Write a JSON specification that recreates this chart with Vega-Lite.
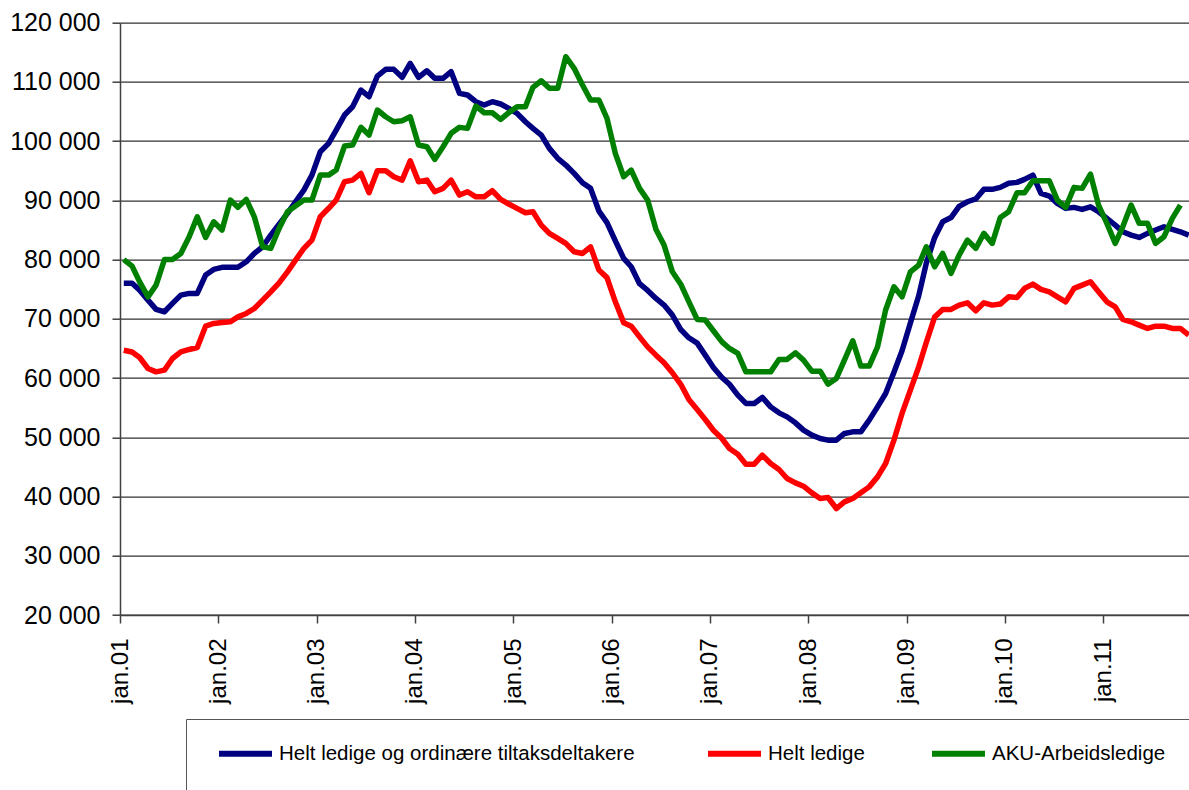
{
  "$schema": "https://vega.github.io/schema/vega-lite/v6.json",
  "autosize": {"type": "none"},
  "padding": {"left": 120, "top": 22.7, "right": 0, "bottom": 175},
  "width": 1069,
  "height": 592.3,
  "background": "white",
  "config": {
    "font": "Liberation Sans",
    "view": {"stroke": null},
    "axis": {"labelFont": "Liberation Sans", "labelColor": "black", "domainColor": "#404040", "tickColor": "#404040"}
  },
  "data": {
    "values": [
      {"d": "2001-01-15", "total": 76000, "helt": 64700, "aku": 80000},
      {"d": "2001-02-15", "total": 76000, "helt": 64400, "aku": 78900},
      {"d": "2001-03-15", "total": 74850, "helt": 63480, "aku": 76250},
      {"d": "2001-04-15", "total": 73160, "helt": 61620, "aku": 73720},
      {"d": "2001-05-15", "total": 71600, "helt": 61050, "aku": 75700},
      {"d": "2001-06-15", "total": 71200, "helt": 61340, "aku": 80000},
      {"d": "2001-07-15", "total": 72600, "helt": 63310, "aku": 80040},
      {"d": "2001-08-15", "total": 74000, "helt": 64430, "aku": 81040},
      {"d": "2001-09-15", "total": 74300, "helt": 64830, "aku": 83850},
      {"d": "2001-10-15", "total": 74300, "helt": 65170, "aku": 87230},
      {"d": "2001-11-15", "total": 77400, "helt": 68770, "aku": 83750},
      {"d": "2001-12-15", "total": 78350, "helt": 69220, "aku": 86390},
      {"d": "2002-01-15", "total": 78700, "helt": 69390, "aku": 84990},
      {"d": "2002-02-15", "total": 78700, "helt": 69500, "aku": 90050},
      {"d": "2002-03-15", "total": 78700, "helt": 70340, "aku": 88820},
      {"d": "2002-04-15", "total": 79630, "helt": 70910, "aku": 90170},
      {"d": "2002-05-15", "total": 81040, "helt": 71750, "aku": 87230},
      {"d": "2002-06-15", "total": 82170, "helt": 73160, "aku": 82170},
      {"d": "2002-07-15", "total": 84140, "helt": 74560, "aku": 81890},
      {"d": "2002-08-15", "total": 86000, "helt": 76080, "aku": 85270},
      {"d": "2002-09-15", "total": 87800, "helt": 77940, "aku": 88080},
      {"d": "2002-10-15", "total": 89770, "helt": 79910, "aku": 89040},
      {"d": "2002-11-15", "total": 91740, "helt": 81900, "aku": 90050},
      {"d": "2002-12-15", "total": 94270, "helt": 83300, "aku": 90050},
      {"d": "2003-01-15", "total": 98210, "helt": 87230, "aku": 94270},
      {"d": "2003-02-15", "total": 99630, "helt": 88670, "aku": 94270},
      {"d": "2003-03-15", "total": 101880, "helt": 90060, "aku": 95120},
      {"d": "2003-04-15", "total": 104410, "helt": 93150, "aku": 99170},
      {"d": "2003-05-15", "total": 105810, "helt": 93430, "aku": 99340},
      {"d": "2003-06-15", "total": 108630, "helt": 94560, "aku": 102330},
      {"d": "2003-07-15", "total": 107500, "helt": 91290, "aku": 101030},
      {"d": "2003-08-15", "total": 110990, "helt": 95000, "aku": 105260},
      {"d": "2003-09-15", "total": 112120, "helt": 95000, "aku": 104120},
      {"d": "2003-10-15", "total": 112120, "helt": 93990, "aku": 103280},
      {"d": "2003-11-15", "total": 110780, "helt": 93430, "aku": 103450},
      {"d": "2003-12-15", "total": 113140, "helt": 96690, "aku": 104120},
      {"d": "2004-01-15", "total": 110780, "helt": 93140, "aku": 99340},
      {"d": "2004-02-15", "total": 111890, "helt": 93430, "aku": 99060},
      {"d": "2004-03-15", "total": 110610, "helt": 91460, "aku": 96920},
      {"d": "2004-04-15", "total": 110610, "helt": 92030, "aku": 99060},
      {"d": "2004-05-15", "total": 111720, "helt": 93430, "aku": 101320},
      {"d": "2004-06-15", "total": 108070, "helt": 90900, "aku": 102330},
      {"d": "2004-07-15", "total": 107790, "helt": 91460, "aku": 102160},
      {"d": "2004-08-15", "total": 106660, "helt": 90610, "aku": 105930},
      {"d": "2004-09-15", "total": 106100, "helt": 90610, "aku": 104800},
      {"d": "2004-10-15", "total": 106660, "helt": 91630, "aku": 104800},
      {"d": "2004-11-15", "total": 106270, "helt": 90170, "aku": 103680},
      {"d": "2004-12-15", "total": 105540, "helt": 89380, "aku": 104800},
      {"d": "2005-01-15", "total": 104700, "helt": 88650, "aku": 105810},
      {"d": "2005-02-15", "total": 103280, "helt": 87910, "aku": 105810},
      {"d": "2005-03-15", "total": 102160, "helt": 88080, "aku": 109090},
      {"d": "2005-04-15", "total": 101030, "helt": 85830, "aku": 110200},
      {"d": "2005-05-15", "total": 98780, "helt": 84430, "aku": 108920},
      {"d": "2005-06-15", "total": 97100, "helt": 83580, "aku": 108920},
      {"d": "2005-07-15", "total": 95970, "helt": 82740, "aku": 114260},
      {"d": "2005-08-15", "total": 94560, "helt": 81320, "aku": 112300},
      {"d": "2005-09-15", "total": 92980, "helt": 81040, "aku": 109480},
      {"d": "2005-10-15", "total": 92030, "helt": 82160, "aku": 106950},
      {"d": "2005-11-15", "total": 88200, "helt": 78230, "aku": 106950},
      {"d": "2005-12-15", "total": 86250, "helt": 76960, "aku": 103850},
      {"d": "2006-01-15", "total": 83150, "helt": 72880, "aku": 97940},
      {"d": "2006-02-15", "total": 80210, "helt": 69360, "aku": 93990},
      {"d": "2006-03-15", "total": 78790, "helt": 68770, "aku": 95120},
      {"d": "2006-04-15", "total": 75930, "helt": 66960, "aku": 92030},
      {"d": "2006-05-15", "total": 74800, "helt": 65270, "aku": 90050},
      {"d": "2006-06-15", "total": 73450, "helt": 63870, "aku": 85100},
      {"d": "2006-07-15", "total": 72320, "helt": 62600, "aku": 82450},
      {"d": "2006-08-15", "total": 70630, "helt": 60900, "aku": 77940},
      {"d": "2006-09-15", "total": 68200, "helt": 58950, "aku": 75850},
      {"d": "2006-10-15", "total": 66800, "helt": 56400, "aku": 72900},
      {"d": "2006-11-15", "total": 65900, "helt": 54700, "aku": 69900},
      {"d": "2006-12-15", "total": 63870, "helt": 53000, "aku": 69800},
      {"d": "2007-01-15", "total": 61750, "helt": 51150, "aku": 67950},
      {"d": "2007-02-15", "total": 60100, "helt": 49800, "aku": 66120},
      {"d": "2007-03-15", "total": 58950, "helt": 48110, "aku": 65000},
      {"d": "2007-04-15", "total": 57120, "helt": 47150, "aku": 64160},
      {"d": "2007-05-15", "total": 55720, "helt": 45460, "aku": 61050},
      {"d": "2007-06-15", "total": 55720, "helt": 45460, "aku": 61050},
      {"d": "2007-07-15", "total": 56730, "helt": 46980, "aku": 61050},
      {"d": "2007-08-15", "total": 55140, "helt": 45580, "aku": 61050},
      {"d": "2007-09-15", "total": 54130, "helt": 44570, "aku": 63150},
      {"d": "2007-10-15", "total": 53450, "helt": 43050, "aku": 63150},
      {"d": "2007-11-15", "total": 52440, "helt": 42310, "aku": 64270},
      {"d": "2007-12-15", "total": 51210, "helt": 41750, "aku": 63030},
      {"d": "2008-01-15", "total": 50360, "helt": 40620, "aku": 61170},
      {"d": "2008-02-15", "total": 49800, "helt": 39670, "aku": 61170},
      {"d": "2008-03-15", "total": 49520, "helt": 39840, "aku": 58980},
      {"d": "2008-04-15", "total": 49520, "helt": 37980, "aku": 59940},
      {"d": "2008-05-15", "total": 50650, "helt": 39100, "aku": 63030},
      {"d": "2008-06-15", "total": 50920, "helt": 39670, "aku": 66290},
      {"d": "2008-07-15", "total": 50920, "helt": 40620, "aku": 62020},
      {"d": "2008-08-15", "total": 52900, "helt": 41630, "aku": 62020},
      {"d": "2008-09-15", "total": 55140, "helt": 43320, "aku": 65270},
      {"d": "2008-10-15", "total": 57400, "helt": 45580, "aku": 71500},
      {"d": "2008-11-15", "total": 61000, "helt": 49520, "aku": 75410},
      {"d": "2008-12-15", "total": 64600, "helt": 54030, "aku": 73720},
      {"d": "2009-01-15", "total": 69300, "helt": 57960, "aku": 77940},
      {"d": "2009-02-15", "total": 73900, "helt": 61900, "aku": 79080},
      {"d": "2009-03-15", "total": 79360, "helt": 66000, "aku": 82170},
      {"d": "2009-04-15", "total": 83700, "helt": 70300, "aku": 78790},
      {"d": "2009-05-15", "total": 86390, "helt": 71590, "aku": 81040},
      {"d": "2009-06-15", "total": 87100, "helt": 71590, "aku": 77660},
      {"d": "2009-07-15", "total": 89000, "helt": 72320, "aku": 80760},
      {"d": "2009-08-15", "total": 89770, "helt": 72710, "aku": 83300},
      {"d": "2009-09-15", "total": 90250, "helt": 71360, "aku": 81890},
      {"d": "2009-10-15", "total": 91860, "helt": 72710, "aku": 84430},
      {"d": "2009-11-15", "total": 91860, "helt": 72320, "aku": 82740},
      {"d": "2009-12-15", "total": 92200, "helt": 72490, "aku": 87100},
      {"d": "2010-01-15", "total": 92880, "helt": 73720, "aku": 88080},
      {"d": "2010-02-15", "total": 93040, "helt": 73620, "aku": 91290},
      {"d": "2010-03-15", "total": 93550, "helt": 75140, "aku": 91290},
      {"d": "2010-04-15", "total": 94270, "helt": 75870, "aku": 93320},
      {"d": "2010-05-15", "total": 91180, "helt": 74970, "aku": 93320},
      {"d": "2010-06-15", "total": 90730, "helt": 74560, "aku": 93320},
      {"d": "2010-07-15", "total": 89500, "helt": 73720, "aku": 90050},
      {"d": "2010-08-15", "total": 88650, "helt": 72880, "aku": 88820},
      {"d": "2010-09-15", "total": 88820, "helt": 75140, "aku": 92200},
      {"d": "2010-10-15", "total": 88480, "helt": 75700, "aku": 92030},
      {"d": "2010-11-15", "total": 88920, "helt": 76260, "aku": 94440},
      {"d": "2010-12-15", "total": 88080, "helt": 74560, "aku": 89210},
      {"d": "2011-01-15", "total": 86960, "helt": 72880, "aku": 86120},
      {"d": "2011-02-15", "total": 85830, "helt": 72030, "aku": 82740},
      {"d": "2011-03-15", "total": 84700, "helt": 69900, "aku": 85540},
      {"d": "2011-04-15", "total": 84140, "helt": 69500, "aku": 89210},
      {"d": "2011-05-15", "total": 83750, "helt": 68940, "aku": 86120},
      {"d": "2011-06-15", "total": 84430, "helt": 68380, "aku": 86120},
      {"d": "2011-07-15", "total": 84990, "helt": 68770, "aku": 82740},
      {"d": "2011-08-15", "total": 85540, "helt": 68770, "aku": 83860},
      {"d": "2011-09-15", "total": 85110, "helt": 68380, "aku": 86960},
      {"d": "2011-10-15", "total": 84700, "helt": 68380, "aku": 89210},
      {"d": "2011-11-15", "total": 84140, "helt": 67250}
    ]
  },
  "transform": [{"fold": ["total", "helt", "aku"], "as": ["series", "value"]}],
  "mark": {"type": "line", "strokeWidth": 5.5, "strokeJoin": "round", "clip": true},
  "encoding": {
    "x": {
      "field": "d",
      "type": "temporal",
      "scale": {
        "type": "utc",
        "domain": [
          {"year": 2001, "month": 1, "date": 1, "utc": true},
          {"year": 2011, "month": 11, "date": 16, "utc": true}
        ]
      },
      "axis": {
        "title": null,
        "grid": false,
        "values": [
          {"year": 2001, "month": 1, "date": 1, "utc": true},
          {"year": 2002, "month": 1, "date": 1, "utc": true},
          {"year": 2003, "month": 1, "date": 1, "utc": true},
          {"year": 2004, "month": 1, "date": 1, "utc": true},
          {"year": 2005, "month": 1, "date": 1, "utc": true},
          {"year": 2006, "month": 1, "date": 1, "utc": true},
          {"year": 2007, "month": 1, "date": 1, "utc": true},
          {"year": 2008, "month": 1, "date": 1, "utc": true},
          {"year": 2009, "month": 1, "date": 1, "utc": true},
          {"year": 2010, "month": 1, "date": 1, "utc": true},
          {"year": 2011, "month": 1, "date": 1, "utc": true}
        ],
        "labelExpr": "'jan.' + utcFormat(datum.value, '%y')",
        "labelAngle": -90,
        "labelFontSize": 24,
        "labelPadding": 15,
        "tickSize": 8,
        "tickWidth": 1.5,
        "domainWidth": 1.5,
        "labelOverlap": false,
        "labelFlush": false
      }
    },
    "y": {
      "field": "value",
      "type": "quantitative",
      "scale": {"domain": [20000, 120000], "nice": false, "zero": false},
      "axis": {
        "title": null,
        "values": [20000, 30000, 40000, 50000, 60000, 70000, 80000, 90000, 100000, 110000, 120000],
        "labelExpr": "replace(format(datum.value, ','), ',', ' ')",
        "labelFontSize": 25,
        "labelPadding": 12,
        "tickSize": 8,
        "tickWidth": 1.5,
        "domainWidth": 1.5,
        "grid": true,
        "gridColor": "#303030",
        "gridWidth": 1.2,
        "gridOpacity": 1,
        "labelFlush": false
      }
    },
    "color": {
      "field": "series",
      "type": "nominal",
      "scale": {"domain": ["total", "helt", "aku"], "range": ["#000080", "#ff0000", "#008000"]},
      "legend": {
        "orient": "none",
        "legendX": 66,
        "legendY": 696.3,
        "direction": "horizontal",
        "title": " ",
        "titleOrient": "left",
        "titleFontSize": 90,
        "titlePadding": 25,
        "padding": 5,
        "strokeColor": "#555555",
        "fillColor": "white",
        "symbolType": "stroke",
        "symbolSize": 2809,
        "symbolStrokeWidth": 6,
        "labelFontSize": 20.5,
        "labelFont": "Liberation Sans",
        "labelColor": "black",
        "labelOffset": 4,
        "labelLimit": 900,
        "columnPadding": 55,
        "labelExpr": "datum.label == 'total' ? 'Helt ledige og ordinære tiltaksdeltakere\u00a0\u200b' : datum.label == 'helt' ? 'Helt ledige' : 'AKU-Arbeidsledige\u00a0\u00a0\u00a0\u00a0\u200b'"
      }
    }
  }
}
